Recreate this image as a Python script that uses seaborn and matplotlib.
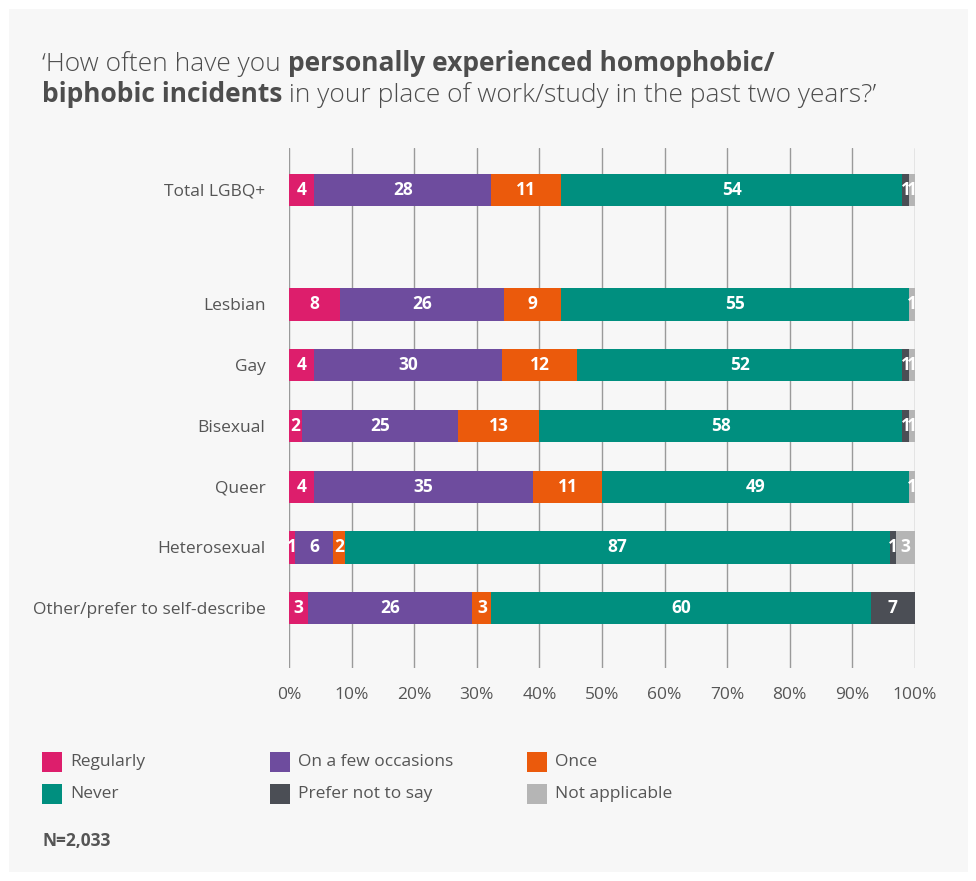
import matplotlib
matplotlib.use("Agg")
import matplotlib.pyplot as plt
import numpy as np
import pandas as pd
import seaborn as sns
from matplotlib.patches import Rectangle

# Survey responses (% of respondents in each group)
groups = ["Total LGBQ+", "Lesbian", "Gay", "Bisexual", "Queer",
          "Heterosexual", "Other/prefer to self-describe"]
responses = ["Regularly", "On a few occasions", "Once", "Never",
             "Prefer not to say", "Not applicable"]
regularly = [4, 8, 4, 2, 4, 1, 3]
few_occasions = [28, 26, 30, 25, 35, 6, 26]
once = [11, 9, 12, 13, 11, 2, 3]
never = [54, 55, 52, 58, 49, 87, 60]
prefer_not = [1, 0, 1, 1, 0, 1, 7]
not_applicable = [1, 1, 1, 1, 1, 3, 0]
x_ticks = [0, 10, 20, 30, 40, 50, 60, 70, 80, 90, 100]
x_tick_labels = [f"{t}%" for t in x_ticks]
sample_note = "N=2,033"

colors = ["#dd1e6c", "#6e4c9e", "#eb5a0c", "#008f7f", "#4b4e55", "#b5b5b5"]
text_color = "#555555"

series = [regularly, few_occasions, once, never, prefer_not, not_applicable]

# Row positions: the total row is set apart from the breakdown rows
gap = 1.885
row_pos = [0.0] + [gap + i for i in range(len(groups) - 1)]

# Long table; each row is scaled to its own total so every bar spans 100%
rows = []
for gi, g in enumerate(groups):
    total = sum(s[gi] for s in series)
    start = 0.0
    for ri, r in enumerate(responses):
        v = series[ri][gi]
        share = v / total * 100
        rows.append(dict(group=g, response=r, value=v, start=start,
                         end=start + share, share=share, ypos=row_pos[gi]))
        start += share
df = pd.DataFrame(rows)

sns.set_theme(style="white")
plt.rcParams["font.family"] = ["Open Sans", "DejaVu Sans"]

fig = plt.figure(figsize=(9.76, 8.81), dpi=100, facecolor="white")
fig.patches.append(Rectangle((9 / 976, 1 - 872 / 881), 959 / 976, 863 / 881,
                             transform=fig.transFigure, facecolor="#f7f7f7",
                             edgecolor="none", zorder=-10))

ax = fig.add_axes([289 / 976, 1 - 668 / 881, 626 / 976, 520 / 881])
ax.set_facecolor("none")

# Stacked bars: draw cumulative ends from the last response back to the first
for ri in range(len(responses) - 1, -1, -1):
    sub = df[df["response"] == responses[ri]]
    sns.barplot(data=sub, x="end", y="ypos", orient="y", native_scale=True,
                color=colors[ri], saturation=1, width=0.53, errorbar=None,
                linewidth=0, ax=ax, zorder=3)

# Value labels
for _, row in df.iterrows():
    if row["value"] > 0:
        ax.text(row["start"] + row["share"] / 2, row["ypos"], f"{row['value']:g}",
                ha="center", va="center", color="white", fontsize=12.5,
                fontweight="bold", zorder=5)

ax.set_xlim(0, 100)
ax.set_ylim(row_pos[-1] + 0.985, -0.69)
ax.set_xticks(x_ticks)
ax.set_xticklabels(x_tick_labels, fontsize=12.5, color=text_color)
ax.set_yticks(row_pos)
ax.set_yticklabels(groups, fontsize=12.5, color=text_color)
ax.tick_params(axis="both", length=0)
ax.tick_params(axis="x", pad=14)
ax.tick_params(axis="y", pad=17)
ax.set_xlabel("")
ax.set_ylabel("")
for s in ax.spines.values():
    s.set_visible(False)
ax.set_axisbelow(True)
ax.xaxis.grid(True, color="#9a9a9a", linewidth=1, zorder=0)
ax.yaxis.grid(False)

# Title with mixed weights
title_kw = dict(fontsize=19, color="#4d4d4d")
t1 = fig.text(42 / 976, 1 - 71 / 881, "\u2018How often have you ", va="baseline",
              ha="left", fontweight="light", **title_kw)
ax.annotate("personally experienced homophobic/", xy=(1, 0), xycoords=t1,
            va="bottom", ha="left", fontweight="bold", annotation_clip=False,
            **title_kw)
t2 = fig.text(42 / 976, 1 - 102 / 881, "biphobic incidents", va="baseline",
              ha="left", fontweight="bold", **title_kw)
ax.annotate(" in your place of work/study in the past two years?\u2019", xy=(1, 0),
            xycoords=t2, va="bottom", ha="left", fontweight="light",
            annotation_clip=False, **title_kw)

# Legend
sq = 20
col_x = [42, 270, 527]
row_y = [762, 794]
for ri, r in enumerate(responses):
    cx = col_x[ri % 3]
    cy = row_y[ri // 3]
    fig.patches.append(Rectangle((cx / 976, 1 - (cy + sq / 2) / 881), sq / 976, sq / 881,
                                 transform=fig.transFigure, facecolor=colors[ri],
                                 edgecolor="none"))
    fig.text((cx + sq + 8) / 976, 1 - cy / 881, r, va="center", ha="left",
             fontsize=12.5, color=text_color)

fig.text(42 / 976, 1 - 841 / 881, sample_note, va="center", ha="left",
         fontsize=12.5, fontweight="bold", color=text_color)

fig.savefig("out.png", dpi=100, facecolor="white")
